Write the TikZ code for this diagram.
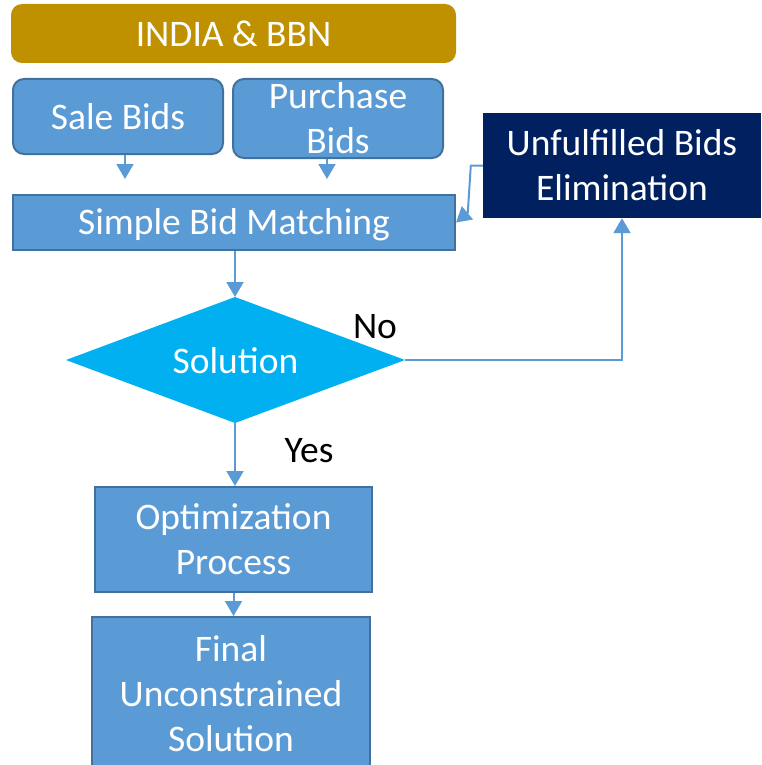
\documentclass[tikz,border=0pt]{standalone}
\usepackage{fontspec}
\setmainfont{Carlito}
\usetikzlibrary{arrows.meta}
\definecolor{gold}{HTML}{BF9000}
\definecolor{boxblue}{HTML}{5B9BD5}
\definecolor{boxedge}{HTML}{41719C}
\definecolor{navy}{HTML}{002060}
\definecolor{cyanfill}{HTML}{00B0F0}
\tikzset{
  txt/.style={text=white,font=\fontsize{37.5}{45}\selectfont,align=center,inner sep=0pt},
  roundbox/.style={txt,draw=boxedge,fill=boxblue,line width=2pt,rounded corners=11pt},
  sqbox/.style={txt,draw=boxedge,fill=boxblue,line width=2pt},
  conn/.style={draw=boxblue,line width=2pt,-{Triangle[width=17pt,length=15pt]}},
  lbl/.style={text=black,font=\fontsize{37.5}{45}\selectfont,inner sep=0pt}
}
\begin{document}
\begin{tikzpicture}[x=1pt,y=-1pt]
\useasboundingbox (0,0) rectangle (761,765);
\clip (0,0) rectangle (761,765);
\node[txt,fill=gold,rounded corners=11pt,minimum width=445pt,minimum height=59pt] (india) at (233.5,33.5) {INDIA \& BBN};
\node[roundbox,minimum width=210pt,minimum height=75pt] (sale) at (118,116.5) {Sale Bids};
\node[roundbox,minimum width=210pt,minimum height=79pt] (pur) at (338,118.5) {Purchase\\Bids};
\node[sqbox,minimum width=442pt,minimum height=55pt] (sbm) at (234,222.5) {};
\node[txt] (sbmtxt) at (234,225) {Simple Bid Matching};
\node[txt,fill=navy,minimum width=278pt,minimum height=105pt] (ufb) at (622,165.5) {Unfulfilled Bids\\Elimination};
% decision diamond
\coordinate (diaN) at (235,297);
\coordinate (diaS) at (235,423);
\coordinate (diaE) at (405,360);
\coordinate (diaW) at (66,360);
\fill[cyanfill] (diaN) -- (diaE) -- (diaS) -- (diaW) -- cycle;
\node[txt] (dia) at (235.5,361) {Solution};
\node[sqbox,minimum width=277pt,minimum height=105pt] (opt) at (233.5,539.5) {Optimization\\Process};
\node[sqbox,minimum width=278pt,minimum height=166pt] (fin) at (231,700) {};
\node[txt] (fintxt) at (231,694) {Final\\Unconstrained\\Solution};
\node[lbl] (no) at (375,327) {No};
\node[lbl] (yes) at (309,451) {Yes};
\draw[conn] ([xshift=7pt]sale.south) -- ([xshift=7pt]sale.south |- 0,179);
\draw[conn] ([xshift=-11pt]pur.south) -- ([xshift=-11pt]pur.south |- 0,179);
\draw[conn] (ufb.west) -- ++(-12,0) -- ++(-3,47) -- (sbm.east);
\draw[conn] (sbm.south -| diaN) -- (diaN);
\draw[conn] (diaE) -| (ufb.south);
\draw[conn] (diaS) -- (diaS |- opt.north);
\draw[conn] (opt.south) -- (opt.south |- fin.north);
\end{tikzpicture}
\end{document}
